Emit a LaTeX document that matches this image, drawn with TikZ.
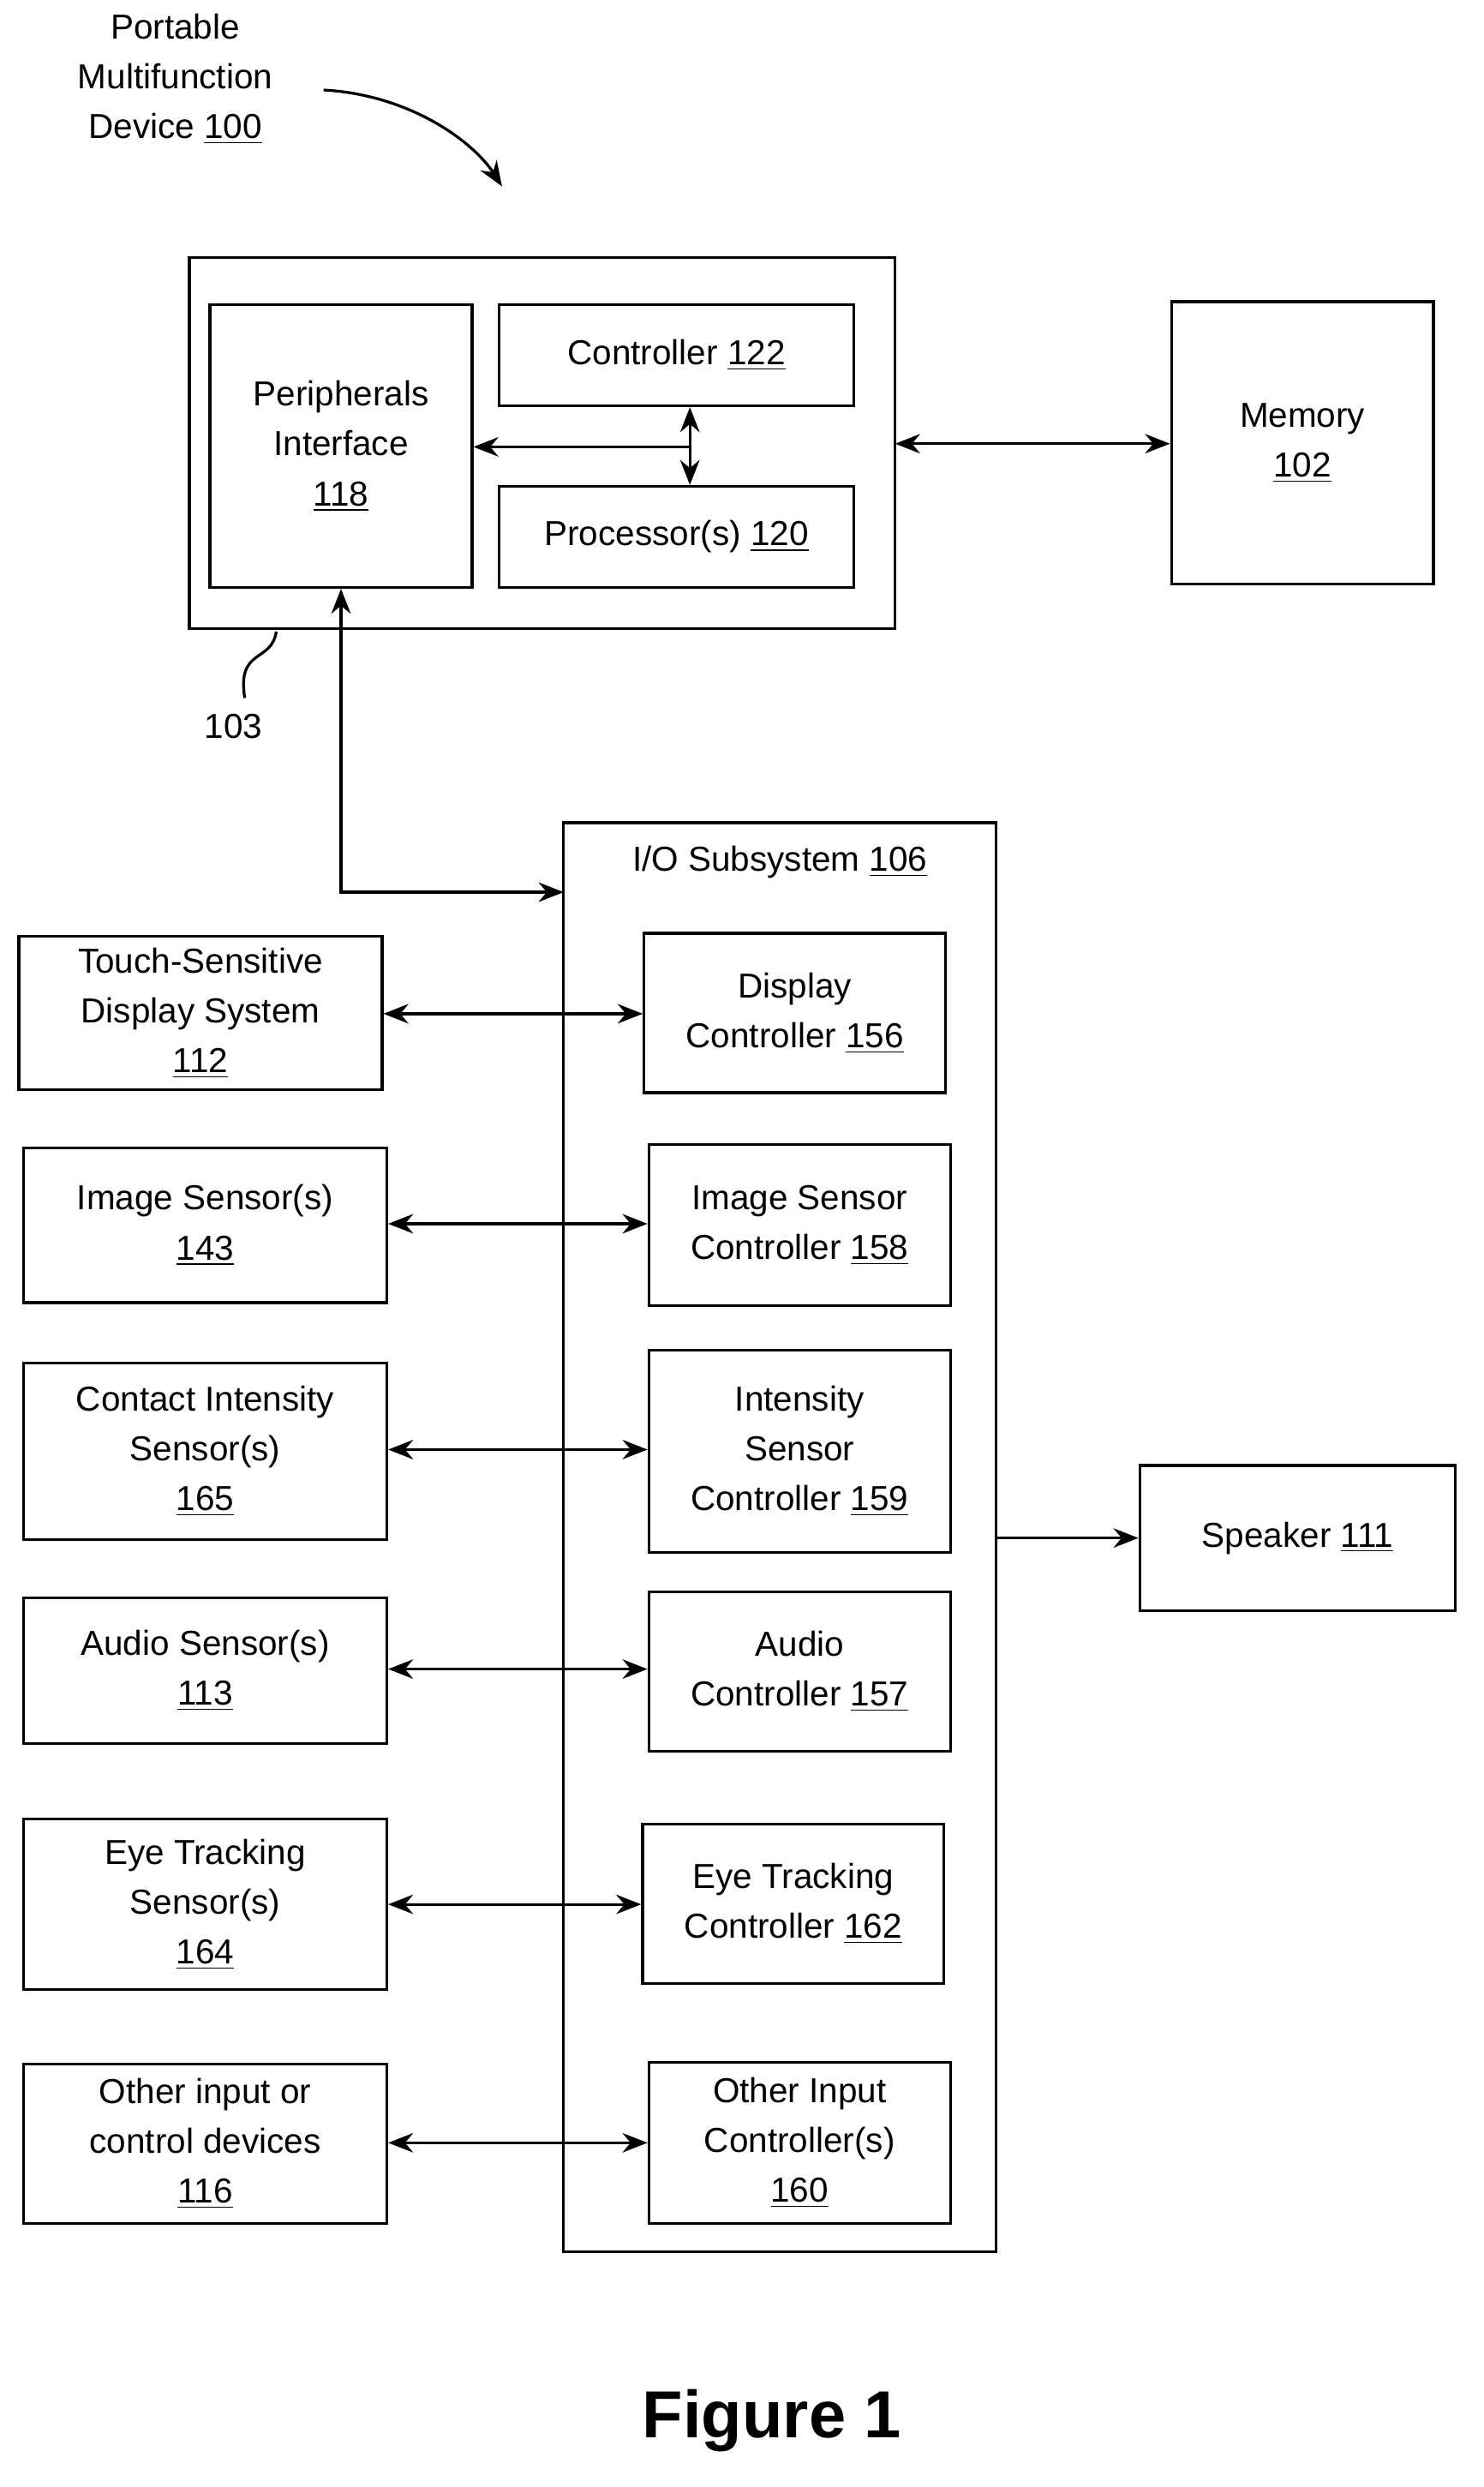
\documentclass[tikz,border=0pt]{standalone}
\usepackage{fontspec}
\setmainfont{Liberation Sans}
\usetikzlibrary{arrows.meta}
\newcommand{\un}[1]{\underline{#1}}
\begin{document}
\begin{tikzpicture}[x=0.02cm,y=-0.02cm,
  every node/.style={font=\fontsize{12.5}{18}\selectfont,align=center},
  bx/.style={draw,line width=1pt},
  ar/.style={line width=1pt,{Stealth[length=9pt,width=7pt]}-{Stealth[length=9pt,width=7pt]}},
  ra/.style={line width=1pt,-{Stealth[length=9pt,width=7pt]}}]
\useasboundingbox (0,0) rectangle (940,1575);
% top group
\draw[bx] (120,163) rectangle (567,398) coordinate (dev);
\node[bx,minimum width=166*0.02cm,minimum height=179*0.02cm] (pi) at (216,282.5) {Peripherals\\Interface\\\un{118}};
\node[bx,minimum width=225*0.02cm,minimum height=64*0.02cm] (ctl) at (428.5,225) {Controller \un{122}};
\node[bx,minimum width=225*0.02cm,minimum height=64*0.02cm] (proc) at (428.5,340) {Processor(s) \un{120}};
\node[bx,minimum width=166*0.02cm,minimum height=179*0.02cm] (mem) at (825,280.5) {Memory\\\un{102}};
\coordinate (devR) at (567,281);
\draw[ar] (devR) -- (mem.west |- devR);
\coordinate (jn) at (437,283);
\draw[ar] (ctl.south -| jn) -- (proc.north -| jn);
\draw[ra] (jn) -- (pi.east |- jn);
\node (lbl) at (111,50) {Portable\\Multifunction\\Device \un{100}};
\coordinate (c1) at (205,57);
\coordinate (c2) at (318,118);
\draw[ra] (c1) .. controls (260,60) and (300,90) .. (c2);
\node (l103) at (148,460) {103};
\coordinate (s1) at (175,400);
\coordinate (s2) at (155,442);
\draw[line width=1pt] (s1) .. controls (172,420) and (150,410) .. (s2);
% IO subsystem
\draw[bx] (357,521) rectangle (631,1426);
\coordinate (ioL) at (357,565);
\node (iot) at (494,546) {I/O Subsystem \un{106}};
\draw[line width=1pt,{Stealth[length=9pt,width=7pt]}-{Stealth[length=9pt,width=7pt]}] (pi.south) -- (216,565) -- (ioL);
\tikzset{lb/.style={bx,minimum width=230*0.02cm,inner sep=0pt},
         rb/.style={bx,minimum width=191*0.02cm,inner sep=0pt}}
\node[lb,minimum height=97*0.02cm] (l1) at (127,641.5) {Touch-Sensitive\\Display System\\\un{112}};
\node[rb,minimum height=101*0.02cm] (r1) at (503.5,641.5) {Display\\Controller \un{156}};
\node[lb,minimum height=98*0.02cm] (l2) at (130,776) {Image Sensor(s)\\\un{143}};
\node[rb,minimum height=102*0.02cm] (r2) at (506.5,776) {Image Sensor\\Controller \un{158}};
\node[lb,minimum height=112*0.02cm] (l3) at (130,919) {Contact Intensity\\Sensor(s)\\\un{165}};
\node[rb,minimum height=128*0.02cm] (r3) at (506.5,919) {Intensity\\Sensor\\Controller \un{159}};
\node[lb,minimum height=92*0.02cm] (l4) at (130,1058) {Audio Sensor(s)\\\un{113}};
\node[rb,minimum height=101*0.02cm] (r4) at (506.5,1058.5) {Audio\\Controller \un{157}};
\node[lb,minimum height=108*0.02cm] (l5) at (130,1206) {Eye Tracking\\Sensor(s)\\\un{164}};
\node[rb,minimum height=101*0.02cm] (r5) at (502.5,1205.5) {Eye Tracking\\Controller \un{162}};
\node[lb,minimum height=101*0.02cm] (l6) at (130,1357.5) {Other input or\\control devices\\\un{116}};
\node[rb,minimum height=102*0.02cm] (r6) at (506.5,1357) {Other Input\\Controller(s)\\\un{160}};
\foreach \i/\y in {1/642,2/775,3/918,4/1057,5/1206,6/1357}{
  \draw[ar] (l\i.east |- 0,\y) -- (r\i.west |- 0,\y);}
\node[bx,minimum width=200*0.02cm,minimum height=92*0.02cm] (spk) at (822,974) {Speaker \un{111}};
\coordinate (ioR) at (631,974);
\draw[ra] (ioR) -- (spk.west);
\node[font=\fontsize{24}{28}\selectfont\bfseries] (fig) at (489,1533) {Figure 1};
\end{tikzpicture}
\end{document}
